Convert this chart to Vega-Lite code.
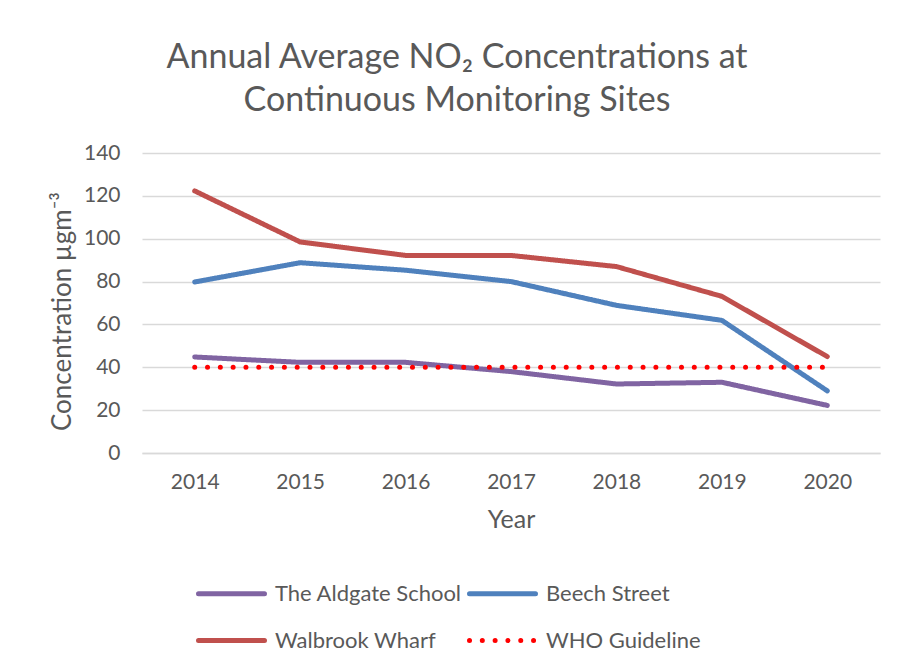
{
  "$schema": "https://vega.github.io/schema/vega-lite/v6.json",
  "width": 738,
  "height": 300,
  "autosize": {"type": "none"},
  "padding": {"left": 142, "top": 153, "right": 24, "bottom": 216},
  "background": "white",
  "title": {
    "text": ["Annual Average NO₂ Concentrations at", "Continuous Monitoring Sites"],
    "font": "Lato",
    "fontSize": 34,
    "fontWeight": "normal",
    "color": "#595959",
    "anchor": "middle",
    "frame": "group",
    "dx": -54,
    "offset": 24,
    "lineHeight": 43
  },
  "config": {
    "font": "Lato",
    "view": {"stroke": null}
  },
  "data": {
    "values": [
      {"year": "2014", "series": "The Aldgate School", "value": 44.8},
      {"year": "2015", "series": "The Aldgate School", "value": 42.3},
      {"year": "2016", "series": "The Aldgate School", "value": 42.3},
      {"year": "2017", "series": "The Aldgate School", "value": 38},
      {"year": "2018", "series": "The Aldgate School", "value": 32.2},
      {"year": "2019", "series": "The Aldgate School", "value": 33},
      {"year": "2020", "series": "The Aldgate School", "value": 22.2},
      {"year": "2014", "series": "Beech Street", "value": 79.8},
      {"year": "2015", "series": "Beech Street", "value": 88.8},
      {"year": "2016", "series": "Beech Street", "value": 85.3},
      {"year": "2017", "series": "Beech Street", "value": 80},
      {"year": "2018", "series": "Beech Street", "value": 68.9},
      {"year": "2019", "series": "Beech Street", "value": 61.9},
      {"year": "2020", "series": "Beech Street", "value": 29},
      {"year": "2014", "series": "Walbrook Wharf", "value": 122.3},
      {"year": "2015", "series": "Walbrook Wharf", "value": 98.5},
      {"year": "2016", "series": "Walbrook Wharf", "value": 92.2},
      {"year": "2017", "series": "Walbrook Wharf", "value": 92.2},
      {"year": "2018", "series": "Walbrook Wharf", "value": 87},
      {"year": "2019", "series": "Walbrook Wharf", "value": 73.1},
      {"year": "2020", "series": "Walbrook Wharf", "value": 45},
      {"year": "2014", "series": "WHO Guideline", "value": 40},
      {"year": "2015", "series": "WHO Guideline", "value": 40},
      {"year": "2016", "series": "WHO Guideline", "value": 40},
      {"year": "2017", "series": "WHO Guideline", "value": 40},
      {"year": "2018", "series": "WHO Guideline", "value": 40},
      {"year": "2019", "series": "WHO Guideline", "value": 40},
      {"year": "2020", "series": "WHO Guideline", "value": 40}
    ]
  },
  "mark": {"type": "line", "strokeCap": "round", "strokeJoin": "round"},
  "encoding": {
    "x": {
      "field": "year",
      "type": "ordinal",
      "scale": {"type": "point", "padding": 0.5},
      "axis": {
        "title": "Year",
        "labelAngle": 0,
        "labelFontSize": 21,
        "labelColor": "#595959",
        "labelPadding": 18,
        "titleFontSize": 25,
        "titleFontWeight": "normal",
        "titleColor": "#595959",
        "titlePadding": 15,
        "ticks": false,
        "domainColor": "#D9D9D9",
        "domainWidth": 1.5,
        "grid": false
      }
    },
    "y": {
      "field": "value",
      "type": "quantitative",
      "scale": {"domain": [0, 140], "nice": false},
      "axis": {
        "title": "Concentration µgm⁻³",
        "values": [0, 20, 40, 60, 80, 100, 120, 140],
        "labelFontSize": 21,
        "labelColor": "#595959",
        "labelPadding": 22,
        "titleFontSize": 26,
        "titleFontWeight": "normal",
        "titleColor": "#595959",
        "titlePadding": 8,
        "titleY": 158,
        "ticks": false,
        "domain": false,
        "gridColor": "#D9D9D9",
        "gridWidth": 1.5
      }
    },
    "color": {
      "field": "series",
      "type": "nominal",
      "scale": {
        "domain": ["The Aldgate School", "Beech Street", "Walbrook Wharf", "WHO Guideline"],
        "range": ["#8064A2", "#4F81BD", "#C0504D", "#FF0000"]
      },
      "legend": {
        "title": null,
        "orient": "none",
        "direction": "horizontal",
        "legendX": 54,
        "legendY": 405,
        "columns": 2,
        "symbolType": "stroke",
        "symbolSize": 4356,
        "labelFontSize": 22,
        "labelColor": "#595959",
        "labelLimit": 400,
        "labelOffset": 8,
        "rowPadding": -23,
        "columnPadding": -3,
        "symbolStrokeWidth": 5,
        "encode": {
          "symbols": {"update": {"strokeCap": {"value": "round"}}}
        }
      }
    },
    "strokeDash": {
      "field": "series",
      "type": "nominal",
      "scale": {
        "domain": ["The Aldgate School", "Beech Street", "Walbrook Wharf", "WHO Guideline"],
        "range": [[1, 0], [1, 0], [1, 0], [0.01, 12.8]]
      }
    },
    "strokeWidth": {
      "field": "series",
      "type": "nominal",
      "scale": {
        "domain": ["The Aldgate School", "Beech Street", "Walbrook Wharf", "WHO Guideline"],
        "range": [5, 5, 5, 5]
      }
    }
  }
}
